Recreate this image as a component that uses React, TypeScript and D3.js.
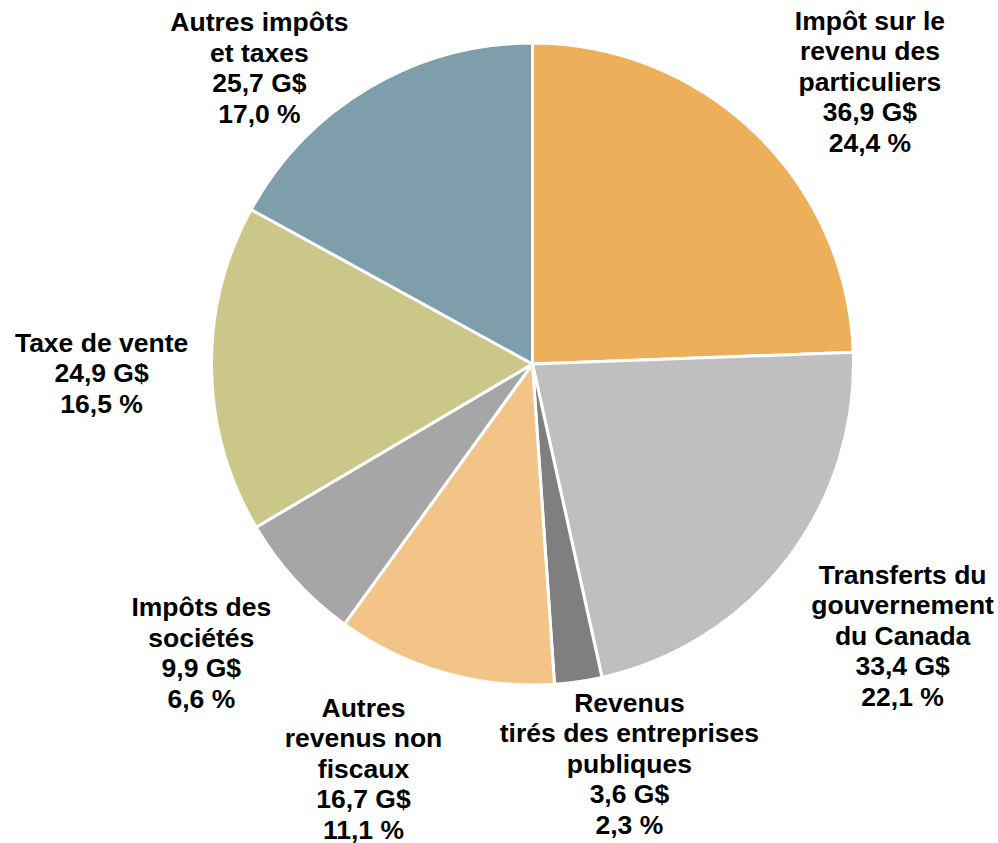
import React from "react";
import * as d3 from "d3";

const categories = [
  ["Impôt sur le", "revenu des", "particuliers"],
  ["Transferts du", "gouvernement", "du Canada"],
  ["Revenus", "tirés des entreprises", "publiques"],
  ["Autres", "revenus non", "fiscaux"],
  ["Impôts des", "sociétés"],
  ["Taxe de vente"],
  ["Autres impôts", "et taxes"],
];
const values = [36.9, 33.4, 3.6, 16.7, 9.9, 24.9, 25.7];
const valueLabels = ["36,9 G$", "33,4 G$", "3,6 G$", "16,7 G$", "9,9 G$", "24,9 G$", "25,7 G$"];
const percentLabels = ["24,4 %", "22,1 %", "2,3 %", "11,1 %", "6,6 %", "16,5 %", "17,0 %"];

const colors = ["#EEAF5A", "#BFBFBF", "#7F7F7F", "#F3C487", "#A6A6A6", "#CBC789", "#7F9EAC"];

// layout
const W = 998;
const H = 843;
const CX = 532.5;
const CY = 364;
const R = 321;
const LABEL_R = 440;
const labelNudge: [number, number][] = [
  [32, 34],
  [22, 2],
  [34, -36],
  [-48, -19],
  [-6, -8],
  [9, 2],
  [-49, 82],
];
const FONT = 26.5;
const LINE = 30.5;

export default function App() {
  const pie = d3.pie<number>().sort(null).value((d) => d)(values);
  const arc = d3.arc<d3.PieArcDatum<number>>().innerRadius(0).outerRadius(R);
  const labelArc = d3.arc<d3.PieArcDatum<number>>().innerRadius(LABEL_R).outerRadius(LABEL_R);

  return (
    <svg
      width={W}
      height={H}
      style={{ position: "absolute", left: 0, top: 0, background: "#fff" }}
    >
      <g transform={`translate(${CX},${CY})`}>
        {pie.map((p, i) => (
          <path key={i} d={arc(p) || ""} fill={colors[i]} stroke="#fff" strokeWidth={3} strokeLinejoin="round" />
        ))}
        {pie.map((p, i) => {
          const [x0, y0] = labelArc.centroid(p);
          const x = x0 + labelNudge[i][0];
          const y = y0 + labelNudge[i][1];
          const lines = [...categories[i], valueLabels[i], percentLabels[i]];
          const first = y - ((lines.length - 1) / 2) * LINE + FONT * 0.716 / 2;
          return (
            <text
              key={"t" + i}
              textAnchor="middle"
              fontFamily="'Liberation Sans', Arial, sans-serif"
              fontWeight="bold"
              fontSize={FONT}
              fill="#000"
            >
              {lines.map((l, j) => (
                <tspan key={j} x={x} y={first + j * LINE}>
                  {l}
                </tspan>
              ))}
            </text>
          );
        })}
      </g>
    </svg>
  );
}
